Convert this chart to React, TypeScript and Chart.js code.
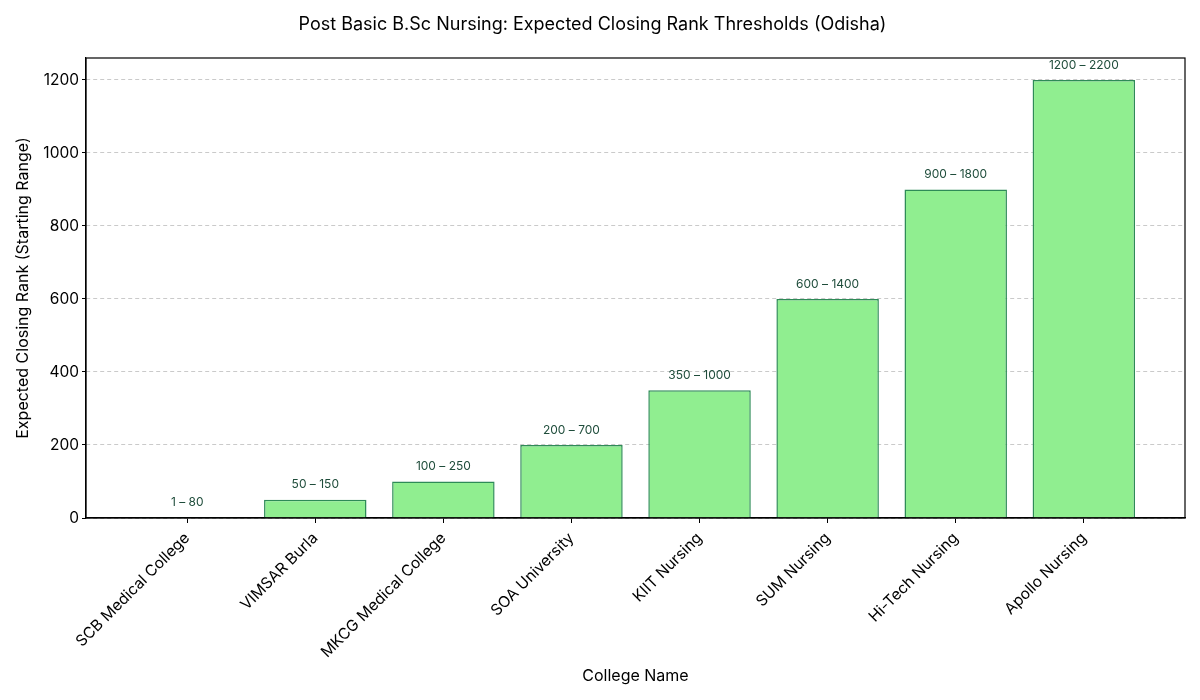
import { Chart, registerables } from 'chart.js';
import { useEffect, useRef } from 'react';

Chart.register(...registerables);

const colleges = [
	'SCB Medical College',
	'VIMSAR Burla',
	'MKCG Medical College',
	'SOA University',
	'KIIT Nursing',
	'SUM Nursing',
	'Hi-Tech Nursing',
	'Apollo Nursing',
];
const rankStart = [1, 50, 100, 200, 350, 600, 900, 1200];
const rankEnd = [80, 150, 250, 700, 1000, 1400, 1800, 2200];
const yTicks = [0, 200, 400, 600, 800, 1000, 1200];

const FONT = 'Inter, "Open Sans", sans-serif';

const rangeLabels = {
	id: 'rangeLabels',
	afterDatasetsDraw(chart: any) {
		const { ctx } = chart;
		const meta = chart.getDatasetMeta(0);
		ctx.save();
		ctx.font = `12px ${FONT}`;
		ctx.fillStyle = '#1f4d3b';
		ctx.textAlign = 'center';
		ctx.textBaseline = 'middle';
		meta.data.forEach((bar: any, i: number) => {
			ctx.fillText(`${rankStart[i]} – ${rankEnd[i]}`, bar.x, bar.y - 15);
		});
		ctx.restore();
	},
};

const frame = {
	id: 'frame',
	afterDraw(chart: any) {
		const { ctx, chartArea: a } = chart;
		ctx.save();
		ctx.strokeStyle = '#000';
		ctx.lineWidth = 1.2;
		ctx.strokeRect(a.left, a.top, a.right - a.left, a.bottom - a.top);
		ctx.restore();
	},
};

export default function App() {
	const canvas = useRef<HTMLCanvasElement | null>(null);
	useEffect(() => {
		if (!canvas.current) return;
		const chart = new Chart(canvas.current, {
			type: 'bar',
			data: {
				datasets: [{
					data: rankStart.map((v, i) => ({ x: i, y: v })),
					backgroundColor: '#90ee90',
					borderColor: '#2e8b57',
					borderWidth: 1.5,
					barPercentage: 0.8,
					categoryPercentage: 1,
				}],
			},
			options: {
				animation: false,
				responsive: false,
				layout: { padding: { left: 0, right: 15, top: 0, bottom: 0 } },
				plugins: {
					legend: { display: false },
					tooltip: { enabled: false },
					title: {
						display: true,
						text: 'Post Basic B.Sc Nursing: Expected Closing Rank Thresholds (Odisha)',
						color: '#000',
						font: { family: FONT, size: 18, weight: 'normal' },
						padding: { top: 14, bottom: 22.4 },
					},
				},
				scales: {
					x: {
						type: 'linear',
						offset: false,
						min: -0.79,
						max: 7.79,
						afterBuildTicks: (s: any) => { s.ticks = colleges.map((_, i) => ({ value: i })); },
						afterFit: (s: any) => { s.height = 182; },
						ticks: {
							callback: (v: any) => colleges[v],
							minRotation: 45,
							maxRotation: 45,
							autoSkip: false,
							color: '#000',
							padding: 6,
							font: { family: FONT, size: 15.5 },
						},
						grid: { drawOnChartArea: false, tickLength: 5, tickColor: '#000', offset: false },
						border: { color: '#000', width: 1.2 },
						title: {
							display: true,
							text: 'College Name',
							color: '#000',
							font: { family: FONT, size: 16 },
							padding: { top: 0, bottom: 14 },
						},
					},
					y: {
						min: 0,
						max: 1260,
						z: 1,
						afterBuildTicks: (s: any) => { s.ticks = yTicks.map((v) => ({ value: v })); },
						afterFit: (s: any) => { s.width = 86; },
						ticks: {
							color: '#000',
							padding: 3,
							font: { family: FONT, size: 15.5 },
							callback: (v: any) => String(v),
						},
						grid: {
							color: 'rgba(180,180,180,0.7)',
							tickColor: '#000',
							tickLength: 4,
							tickBorderDash: [],
						} as any,
						border: { color: '#000', width: 1.2, dash: [4, 3] } as any,
						title: {
							display: true,
							text: 'Expected Closing Rank (Starting Range)',
							color: '#000',
							font: { family: FONT, size: 16 },
							padding: { top: 14, bottom: 0 },
						},
					},
				},
			},
			plugins: [rangeLabels, frame],
		});
		return () => chart.destroy();
	}, []);

	return (
		<div style={{ position: 'absolute', left: 0, top: 0, width: 1200, height: 700, background: '#fff' }}>
			<canvas ref={canvas} width={1200} height={700}></canvas>
		</div>
	);
}
